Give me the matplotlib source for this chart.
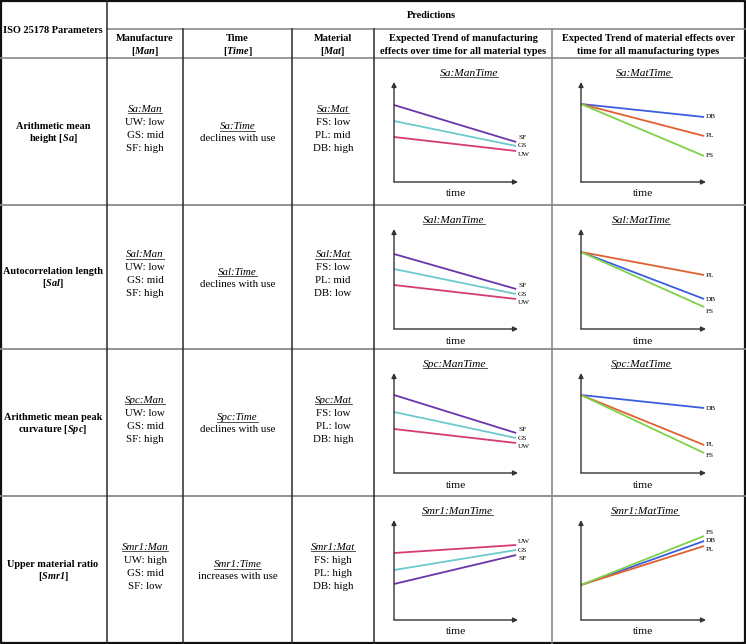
import matplotlib
matplotlib.use("Agg")
import matplotlib.pyplot as plt
from matplotlib.lines import Line2D

plt.rcParams['font.family'] = ['Liberation Serif', 'DejaVu Serif']
plt.rcParams['mathtext.fontset'] = 'custom'
plt.rcParams['mathtext.rm'] = 'Liberation Serif'
plt.rcParams['mathtext.it'] = 'Liberation Serif:italic'
plt.rcParams['mathtext.bf'] = 'Liberation Serif:bold'
plt.rcParams['mathtext.bfit'] = 'Liberation Serif:bold:italic'

# ---------------- data ----------------
params = ["Sa", "Sal", "Spc", "Smr1"]
param_line1 = ["Arithmetic mean", "Autocorrelation length", "Arithmetic mean peak", "Upper material ratio"]
param_line2 = ["height", "", "curvature", ""]

man_types = ["UW", "GS", "SF"]
man_levels = [["low", "mid", "high"], ["low", "mid", "high"], ["low", "mid", "high"], ["high", "mid", "low"]]
time_trend = ["declines with use", "declines with use", "declines with use", "increases with use"]
mat_types = ["FS", "PL", "DB"]
mat_levels = [["low", "mid", "high"], ["low", "mid", "low"], ["low", "low", "high"], ["high", "high", "high"]]

# ManTime trend lines (series SF, GS, UW): start / end values (0..1 of y-axis)
man_series = ["SF", "GS", "UW"]
sa_man_start = [0.77, 0.61, 0.45]
sa_man_end = [0.40, 0.36, 0.31]
sal_man_start = [0.75, 0.60, 0.44]
sal_man_end = [0.40, 0.35, 0.30]
spc_man_start = [0.78, 0.61, 0.44]
spc_man_end = [0.40, 0.35, 0.30]
smr_man_start = [0.36, 0.50, 0.67]
smr_man_end = [0.65, 0.70, 0.75]

# MatTime trend lines (series DB, PL, FS)
mat_series = ["DB", "PL", "FS"]
sa_mat_start = [0.78, 0.78, 0.78]
sa_mat_end = [0.65, 0.46, 0.26]
sal_mat_start = [0.77, 0.77, 0.77]
sal_mat_end = [0.30, 0.54, 0.22]
spc_mat_start = [0.78, 0.78, 0.78]
spc_mat_end = [0.65, 0.28, 0.20]
smr_mat_start = [0.35, 0.35, 0.35]
smr_mat_end = [0.79, 0.74, 0.84]

man_starts = [sa_man_start, sal_man_start, spc_man_start, smr_man_start]
man_ends = [sa_man_end, sal_man_end, spc_man_end, smr_man_end]
mat_starts = [sa_mat_start, sal_mat_start, spc_mat_start, smr_mat_start]
mat_ends = [sa_mat_end, sal_mat_end, spc_mat_end, smr_mat_end]

# ---------------- style / layout ----------------
man_colors = {"SF": "#6a35a8", "GS": "#6cc9cc", "UW": "#d83a78"}
mat_colors = {"DB": "#3a5ee0", "PL": "#e06030", "FS": "#7fd04a"}
# label vertical offsets (points) to keep labels apart
man_label_off = [[3.2, 0, -2.5], [2.5, 0, -2.5], [2.5, 0, -2.5], [-2.5, 0, 2.5]]
mat_label_off = [[0, 0, 0], [0, 0, -2.9], [0, 0, -1.5], [0, -2.5, 2.5]]

W, H = 746, 644
fig = plt.figure(figsize=(W / 100, H / 100), dpi=100)
ax0 = fig.add_axes([0, 0, 1, 1])
ax0.set_xlim(0, W)
ax0.set_ylim(H, 0)
ax0.axis('off')

col_x = [107, 183, 292, 374, 552]
row_tops = [58, 205, 349, 496]
bottom = 643

dark = "#2a2a2a"
grey = "#8a8a8a"
# outer border
ax0.plot([1, W - 1, W - 1, 1, 1], [1, 1, bottom, bottom, 1], color="#111111", lw=1.6)
# horizontal lines
ax0.plot([col_x[0], W - 1], [29, 29], color=grey, lw=1.2)
ax0.plot([1, W - 1], [58, 58], color=grey, lw=1.2)
for y in row_tops[1:]:
    ax0.plot([1, W - 1], [y, y], color=grey, lw=1.3)
# vertical lines
ax0.plot([col_x[0], col_x[0]], [1, bottom], color=dark, lw=1.1)
for x in col_x[1:4]:
    ax0.plot([x, x], [29, bottom], color=dark, lw=1.1)
ax0.plot([col_x[4], col_x[4]], [29, bottom], color=grey, lw=1.2)

FS_HEAD = 7.4
FS_BODY = 7.8
FS_TITLE = 8.2

underlined = []

def txt(x, y, s, size=FS_BODY, weight='normal', style='normal', underline=False, **kw):
    # y is the visual centre line; place text on a baseline for even spacing
    t = ax0.text(x, y + 0.36 * size, s, fontsize=size, fontweight=weight, fontstyle=style,
                 ha='center', va='baseline', **kw)
    if underline:
        underlined.append(t)
    return t

# header
txt(53, 30, "ISO 25178 Parameters", size=FS_HEAD, weight='bold')
txt(431, 15, "Predictions", size=FS_HEAD, weight='bold')
hdr_centers = [145, 237.5, 333, 463, 648]
txt(hdr_centers[0], 38, "Manufacture", size=FS_HEAD, weight='bold')
txt(hdr_centers[0], 51, r"[$\mathbfit{Man}$]", size=FS_HEAD, weight='bold')
txt(hdr_centers[1], 38, "Time", size=FS_HEAD, weight='bold')
txt(hdr_centers[1], 51, r"[$\mathbfit{Time}$]", size=FS_HEAD, weight='bold')
txt(hdr_centers[2], 38, "Material", size=FS_HEAD, weight='bold')
txt(hdr_centers[2], 51, r"[$\mathbfit{Mat}$]", size=FS_HEAD, weight='bold')
txt(hdr_centers[3], 38, "Expected Trend of manufacturing", size=FS_HEAD, weight='bold')
txt(hdr_centers[3], 51, "effects over time for all material types", size=FS_HEAD, weight='bold')
txt(hdr_centers[4], 38, "Expected Trend of material effects over", size=FS_HEAD, weight='bold')
txt(hdr_centers[4], 51, "time for all manufacturing types", size=FS_HEAD, weight='bold')

man_title_x = [469, 454, 455, 457]
mat_title_x = [644, 641, 641, 645]
line_gap = 13.0

for i, p in enumerate(params):
    top = row_tops[i]
    bot = row_tops[i + 1] if i + 1 < len(row_tops) else bottom
    cy = (top + bot) / 2

    # parameter name
    pname = rf"[$\mathbfit{{{p}}}$]"
    l2 = (param_line2[i] + " " + pname).strip()
    txt(53, cy - 5.5, param_line1[i], size=FS_HEAD, weight='bold')
    txt(53, cy + 6.5, l2, size=FS_HEAD, weight='bold')

    # manufacture column
    y0 = cy - 1.5 * line_gap - 3
    txt(hdr_centers[0], y0, f"{p}:Man", style='italic', underline=True)
    for k, m in enumerate(man_types):
        txt(hdr_centers[0], y0 + (k + 1) * line_gap, f"{m}: {man_levels[i][k]}")
    # time column
    txt(hdr_centers[1], cy - 5, f"{p}:Time", style='italic', underline=True)
    txt(hdr_centers[1], cy + 7, time_trend[i])
    # material column
    txt(hdr_centers[2], y0, f"{p}:Mat", style='italic', underline=True)
    for k, m in enumerate(mat_types):
        txt(hdr_centers[2], y0 + (k + 1) * line_gap, f"{m}: {mat_levels[i][k]}")

    # chart titles
    txt(man_title_x[i], top + 15, f"{p}:ManTime", size=FS_TITLE, style='italic', underline=True)
    txt(mat_title_x[i], top + 15, f"{p}:MatTime", size=FS_TITLE, style='italic', underline=True)

    # mini charts
    for (ax_left, ax_w, series, starts, ends, cols, offs) in [
        (394, 124, man_series, man_starts[i], man_ends[i], man_colors, man_label_off[i]),
        (581, 125, mat_series, mat_starts[i], mat_ends[i], mat_colors, mat_label_off[i]),
    ]:
        ax_top = top + 24
        ax_bot = top + 124
        ax = fig.add_axes([ax_left / W, 1 - ax_bot / H, ax_w / W, (ax_bot - ax_top) / H])
        ax.set_xlim(0, 1)
        ax.set_ylim(0, 1)
        ax.axis('off')
        arr = dict(arrowstyle='-|>', lw=1.0, color='#333333', mutation_scale=7,
                   shrinkA=0, shrinkB=0)
        ax.annotate('', xy=(0, 1), xytext=(0, 0), arrowprops=arr, annotation_clip=False)
        ax.annotate('', xy=(1, 0), xytext=(0, 0), arrowprops=arr, annotation_clip=False)
        for k, s in enumerate(series):
            ax.plot([0, 0.985], [starts[k], ends[k]], color=cols[s], lw=1.3,
                    solid_capstyle='butt', clip_on=False)
            ax.annotate(s, xy=(0.985, ends[k]), xytext=(1.5, offs[k]), textcoords='offset points',
                        fontsize=5.2, ha='left', va='center', annotation_clip=False)
        ax.text(0.5, -0.12, "time", transform=ax.transAxes, fontsize=FS_TITLE,
                ha='center', va='center')

# underlines
fig.canvas.draw()
r = fig.canvas.get_renderer()
for t in underlined:
    bb = t.get_window_extent(renderer=r)
    y = bb.y0 + 0.5
    fig.add_artist(Line2D([bb.x0 / W, bb.x1 / W], [y / H, y / H], color='#333333', lw=0.6,
                          transform=fig.transFigure))

fig.savefig("out.png", dpi=100)
